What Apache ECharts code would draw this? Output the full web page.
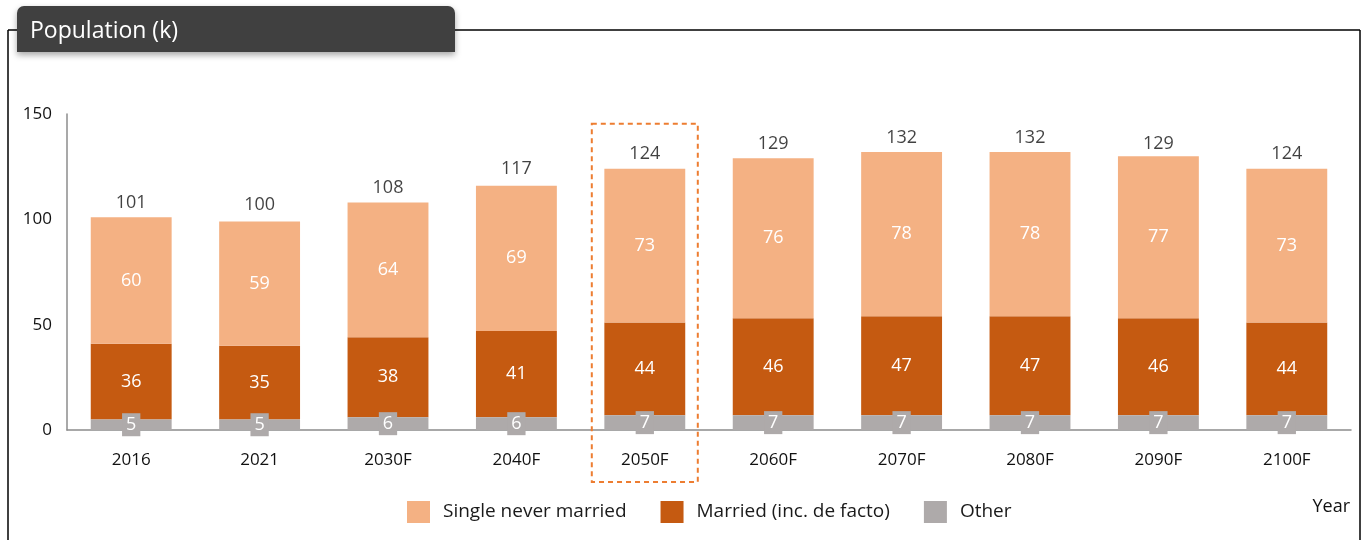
<!DOCTYPE html>
<html>
<head>
<meta charset="utf-8">
<script src="https://cdn.jsdelivr.net/npm/echarts@6/dist/echarts.min.js"></script>
<style>
  html, body { margin: 0; padding: 0; background: #fff; }
  #chart { width: 1367px; height: 540px; }
</style>
</head>
<body>
<div id="chart"></div>
<script>
const years = ['2016', '2021', '2030F', '2040F', '2050F', '2060F', '2070F', '2080F', '2090F', '2100F']
const single = [60, 59, 64, 69, 73, 76, 78, 78, 77, 73]
const married = [36, 35, 38, 41, 44, 46, 47, 47, 46, 44]
const other = [5, 5, 6, 6, 7, 7, 7, 7, 7, 7]
const totals = [101, 100, 108, 117, 124, 129, 132, 132, 129, 124]
const highlightYear = '2050F'

const font = '"Open Sans", "Noto Sans", sans-serif'
const myChart = echarts.init(document.getElementById('chart'))

const option = {
  animation: false,
  textStyle: { fontFamily: font },
  grid: { left: 67, right: 16, top: 114, bottom: 110 },
  legend: {
    bottom: 12,
    left: 402,
    itemWidth: 23,
    itemHeight: 22,
    itemGap: 34,
    icon: 'rect',
    textStyle: { fontSize: 19, color: '#1a1a1a', fontFamily: font, padding: [0, 0, 0, 8] },
    data: ['Single never married', 'Married (inc. de facto)', 'Other']
  },
  xAxis: {
    type: 'category',
    data: years,
    axisLine: { lineStyle: { color: '#8c8c8c', width: 1.5 } },
    axisTick: { show: false },
    axisLabel: { color: '#111', fontSize: 17, margin: 22 }
  },
  yAxis: {
    type: 'value',
    min: 0,
    max: 150,
    interval: 50,
    splitLine: { show: false },
    axisLine: { show: true, lineStyle: { color: '#8c8c8c', width: 1.5 } },
    axisTick: { show: false },
    axisLabel: { color: '#111', fontSize: 17, margin: 15 }
  },
  series: [
    {
      name: 'Other',
      type: 'bar',
      stack: 'pop',
      barCategoryGap: '37%',
      data: other,
      itemStyle: { color: '#AEAAAA' },
      z: 3,
      label: {
        show: true,
        position: 'inside',
        color: '#fff',
        fontSize: 18,
        backgroundColor: '#AEAAAA',
        padding: [3, 4, 2, 4]
      }
    },
    {
      name: 'Married (inc. de facto)',
      type: 'bar',
      stack: 'pop',
      data: married,
      itemStyle: { color: '#C55A11' },
      label: { show: true, position: 'inside', color: '#fff', fontSize: 18 }
    },
    {
      name: 'Single never married',
      type: 'bar',
      stack: 'pop',
      data: single,
      itemStyle: { color: '#F4B183' },
      label: { show: true, position: 'inside', color: '#fff', fontSize: 18 }
    },
    {
      name: 'Total',
      type: 'scatter',
      data: totals,
      symbolSize: 1,
      itemStyle: { color: 'rgba(0,0,0,0)' },
      silent: true,
      label: { show: true, position: 'top', distance: 5, color: '#111', fontSize: 18 }
    }
  ]
}
myChart.setOption(option)

// frame, title box, year label and the dashed highlight around one category
const idx = years.indexOf(highlightYear)
const cx = myChart.convertToPixel({ xAxisIndex: 0 }, idx)
const topY = myChart.convertToPixel({ yAxisIndex: 0 }, totals[idx])
myChart.setOption({
  graphic: [
    { type: 'line', shape: { x1: 8, y1: 30, x2: 1360, y2: 30 }, style: { stroke: '#000', lineWidth: 1.5 } },
    { type: 'line', shape: { x1: 8, y1: 30, x2: 8, y2: 540 }, style: { stroke: '#000', lineWidth: 1.5 } },
    { type: 'line', shape: { x1: 1360, y1: 30, x2: 1360, y2: 540 }, style: { stroke: '#000', lineWidth: 1.5 } },
    {
      type: 'rect',
      shape: { x: 17, y: 6, width: 438, height: 46, r: [7, 7, 0, 0] },
      style: { fill: '#404040', shadowBlur: 6, shadowOffsetY: 3, shadowColor: 'rgba(0,0,0,0.35)' },
      z: 10
    },
    {
      type: 'text',
      x: 30, y: 31,
      style: { text: 'Population (k)', fill: '#fff', font: '23px ' + font, textVerticalAlign: 'middle' },
      z: 11
    },
    {
      type: 'text',
      x: 1350, y: 507,
      style: { text: 'Year', fill: '#111', font: '18px ' + font, textAlign: 'right', textVerticalAlign: 'middle' }
    },
    {
      type: 'rect',
      shape: { x: cx - 53, y: topY - 45, width: 106, height: 482 - (topY - 45) },
      style: { fill: 'none', stroke: '#ED7D31', lineWidth: 2, lineDash: [5, 4] },
      z: 20
    }
  ]
})

window.addEventListener('resize', function () {
  myChart.resize()
})
</script>
</body>
</html>
